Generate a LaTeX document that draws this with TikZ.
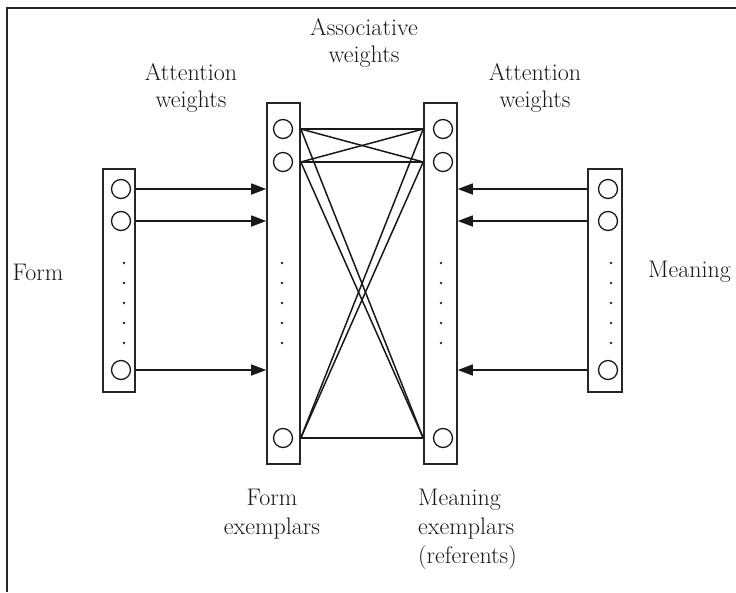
\documentclass[tikz,border=0pt]{standalone}
\usetikzlibrary{arrows.meta,calc}
\begin{document}
\begin{tikzpicture}[x=1pt,y=-1pt,
  box/.style={rectangle,draw=black!85,line width=1.6pt,inner sep=0pt,minimum width=33pt},
  unit/.style={circle,draw=black!90,line width=1.3pt,minimum size=19pt,inner sep=0pt},
  dotn/.style={circle,fill=black!85,inner sep=0pt,minimum size=2.8pt},
  lbl/.style={font=\fontsize{24}{27}\selectfont,inner sep=0pt,text=black!90},
  lblb/.style={font=\fontsize{24}{29}\selectfont,inner sep=0pt,text=black!90},
  conn/.style={draw=black!90,line width=1.5pt},
  arr/.style={conn,-{Triangle[length=15pt,width=11pt]}},
  frame/.style={draw=black!85,line width=1.5pt}]
\useasboundingbox (0,0) rectangle (736,592);
% frame
\coordinate (ftl) at (7,8);
\coordinate (ftr) at (736,8);
\coordinate (fbl) at (7,592);
\draw[frame] (ftr) -- (ftl) -- (fbl);
% boxes
\node[box,minimum width=32pt,minimum height=223pt] (fbox) at (119,280.5) {};
\node[box,minimum height=361pt] (fex) at (283.5,283.5) {};
\node[box,minimum height=361pt] (mex) at (440.5,283.5) {};
\node[box,minimum width=34pt,minimum height=223pt] (mbox) at (605,280.5) {};
% units
\node[unit] (f1) at (121,189) {};
\node[unit] (f2) at (121,221) {};
\node[unit] (f3) at (121,370) {};
\node[unit] (a1) at (283,129) {};
\node[unit] (a2) at (283,162) {};
\node[unit] (a3) at (283,438) {};
\node[unit] (b1) at (443,129) {};
\node[unit] (b2) at (443,162) {};
\node[unit] (b3) at (443,438) {};
\node[unit] (m1) at (608,189) {};
\node[unit] (m2) at (608,221) {};
\node[unit] (m3) at (608,370) {};
% dots
\foreach \i/\y in {1/263,2/283,3/303,4/323,5/343}{
  \node[dotn] (fd\i) at (124,\y) {};
  \node[dotn] (ad\i) at (282,\y) {};
  \node[dotn] (bd\i) at (441,\y) {};
  \node[dotn] (md\i) at (611,\y) {};
}
% attention arrows
\foreach \k in {1,2,3}{
  \draw[arr] (f\k -| fbox.east) -- (f\k -| fex.west);
  \draw[arr] (m\k -| mbox.west) -- (m\k -| mex.east);
}
% associative weights
\foreach \i in {1,2,3}{
  \foreach \j in {1,2,3}{
    \draw[conn] (a\i -| fex.east) -- (b\j -| mex.west);
  }
}
% labels
\node[lbl,align=center] (assoc) at (364,43) {Associative\\weights};
\node[lbl,align=center] (attl) at (191,88) {Attention\\weights};
\node[lbl,align=center] (attr) at (535,88) {Attention\\weights};
\node[lbl] (form) at (38,272) {Form};
\node[lbl,anchor=west] (meaning) at (648,272) {Meaning};
\node[lblb,align=center] (fexl) at (272,514) {Form\\exemplars};
\node[lblb,align=left,anchor=north west] (mexl) at (418,489) {Meaning\\exemplars\\(referents)};
\end{tikzpicture}
\end{document}
